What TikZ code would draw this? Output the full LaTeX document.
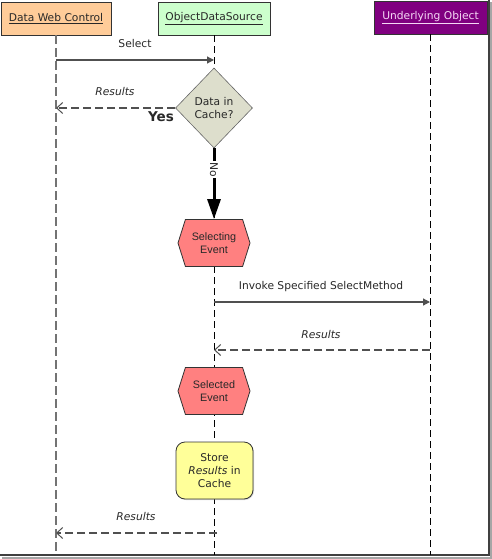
\documentclass[tikz,border=0pt]{standalone}
\usepackage{fontspec}
\setmainfont{DejaVu Sans}
\newfontfamily\arialf{Liberation Sans}
\usetikzlibrary{shapes.geometric,shapes.symbols,arrows.meta,shadows}
\definecolor{hdrorange}{RGB}{255,204,153}
\definecolor{hdrgreen}{RGB}{204,255,204}
\definecolor{hdrpurple}{RGB}{128,0,128}
\definecolor{diafill}{RGB}{221,222,204}
\definecolor{hexfill}{RGB}{255,128,128}
\definecolor{storefill}{RGB}{255,255,153}
\definecolor{txtdark}{RGB}{40,40,40}
\definecolor{arrgrey}{RGB}{80,80,80}
\definecolor{pinktxt}{RGB}{245,215,245}
\tikzset{
  hdr/.style={draw=black!80, line width=0.8pt, minimum height=33, inner sep=0pt, text=txtdark},
  life/.style={draw=black, line width=1pt, dash pattern=on 7pt off 4pt},
  lifegrey/.style={draw=black!55, line width=1.2pt, dash pattern=on 9pt off 4pt},
  callarrow/.style={draw=arrgrey, line width=1.2pt, -{Triangle[length=7,width=7]}},
  retarrow/.style={draw=arrgrey, line width=1.2pt, dash pattern=on 8pt off 4pt, -{Straight Barb[length=6,width=11,line width=1pt]}},
  msglabel/.style={text=txtdark, inner sep=1pt},
  retlabel/.style={text=txtdark, inner sep=1pt, font=\fontsize{10.7}{12.8}\selectfont\itshape},
  hexnode/.style={signal, signal to=west and east, signal pointer angle=145, draw=black!80, line width=0.8pt, fill=hexfill, minimum width=72, minimum height=47, inner sep=0pt, align=center, font=\arialf\fontsize{10.8}{12.8}\selectfont, text=txtdark},
}
\begin{document}
\begin{tikzpicture}[x=1pt,y=-1pt, font=\fontsize{10.7}{12.8}\selectfont]
\useasboundingbox (0,0) rectangle (491,559);
% frame with shadow
\draw[black!35, line width=2pt] (2,557.5) -- (491,557.5) -- (491,2);
\draw[black!75, line width=1.4pt] (0,555) -- (489,555) -- (489,0);

% headers
\node[hdr, fill=hdrorange, minimum width=110] (dwc) at (56,18.5) {\underline{Data Web Control}};
\node[hdr, fill=hdrgreen, minimum width=112] (ods) at (214,18.5) {\underline{ObjectDataSource}};
\node[hdr, fill=hdrpurple, minimum width=113, text=pinktxt] (uo) at (430.5,17.5) {\underline{Underlying Object}};

% lifeline ends
\coordinate (dwcend) at (56,555);
\coordinate (odsend) at (214,555);
\coordinate (uoend) at (430,555);
\draw[lifegrey] (dwc.south) -- (dwcend);
\draw[life] (ods.south) -- (odsend);
\draw[life] (uo.south -| uoend) -- (uoend);

% decision
\node[diamond, draw=black!60, line width=0.6pt, fill=diafill, minimum width=77, minimum height=80, inner sep=0pt, align=center, text=txtdark] (dia) at (214,108) {Data in\\Cache?};

% events
\node[hexnode] (selg) at (214,243) {Selecting\\Event};
\node[hexnode] (seld) at (214,391) {Selected\\Event};
\node[draw=black!80, line width=0.8pt, fill=storefill, rounded corners=9pt, minimum width=77, minimum height=57, inner sep=0pt, align=center, text=txtdark, drop shadow={shadow xshift=1pt, shadow yshift=-1pt, opacity=0.3}] (store) at (214.5,470.5) {Store\\\textit{Results} in\\Cache};

% message points
\coordinate (a1) at (56,60);   \coordinate (a2) at (214,60);
\coordinate (b1) at (56,108);
\coordinate (c1) at (214,302); \coordinate (c2) at (430,302);
\coordinate (d1) at (430,350); \coordinate (d2) at (214,350);
\coordinate (e1) at (217,533); \coordinate (e2) at (56,533);

\draw[callarrow] (a1) -- (a2);
\node[msglabel] (lsel) at (135,44) {Select};

\draw[retarrow] (dia.west) -- (b1);
\node[retlabel] (lres1) at (115,92) {Results};
\node[font=\fontsize{13.5}{15}\selectfont\bfseries, text=txtdark, inner sep=0pt] (yes) at (161,116.5) {Yes};

\draw[black, line width=3pt, -{Triangle[length=20,width=13]}] (dia.south) -- node[pos=0.3, fill=white, rotate=-90, inner sep=1.5pt, text=txtdark] (no) {No} (selg.north);

\draw[callarrow] (c1) -- (c2);
\node[msglabel] (linv) at (321,287) {Invoke Specified SelectMethod};

\draw[retarrow] (d1) -- (d2);
\node[retlabel] (lres2) at (321,335) {Results};

\draw[retarrow] (e1) -- (e2);
\node[retlabel] (lres3) at (136,517) {Results};
\end{tikzpicture}
\end{document}
